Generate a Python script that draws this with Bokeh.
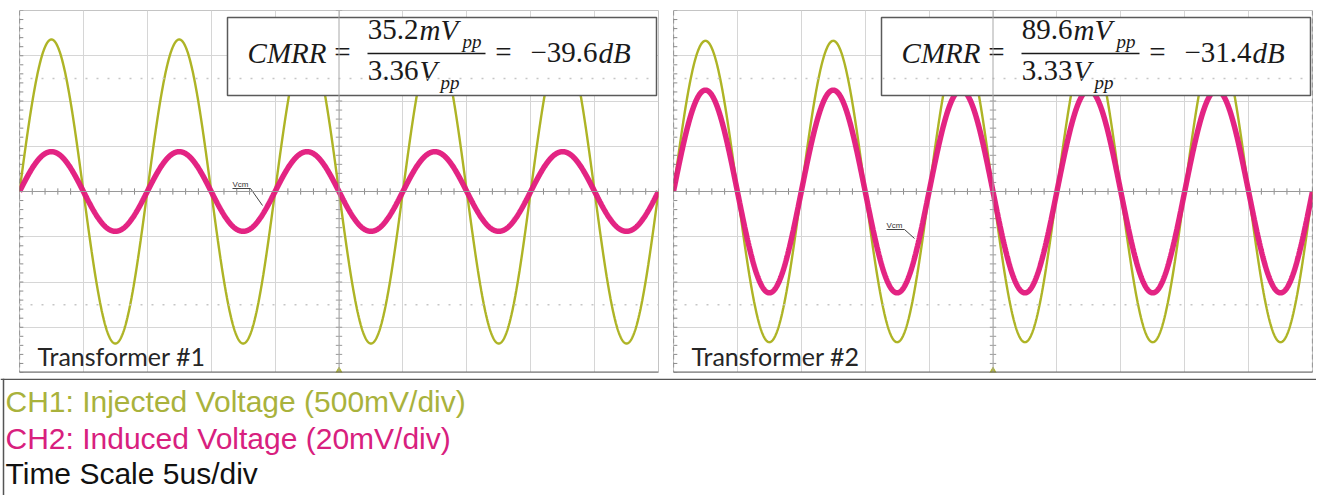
import numpy as np
from bokeh.plotting import figure
from bokeh.models import Range1d, Grid, FixedTicker, Span
from bokeh.layouts import column, row
from bokeh.embed import file_html
from bokeh.resources import INLINE
from bokeh.core.properties import value

# ---------------- data (read from the scope captures) ----------------
panel_names = ["Transformer #1", "Transformer #2"]
ch1_vpp = [3.36, 3.33]        # injected voltage, V peak-to-peak
ch2_mvpp = [35.2, 89.6]       # induced voltage, mV peak-to-peak
cmrr_db = [-39.6, -31.4]
ch1_v_per_div = 0.5           # 500 mV/div
ch2_mv_per_div = 20           # 20 mV/div
time_per_div_us = 5           # 5 us/div
n_div_x = 10
n_div_y = 8
signal_freq_mhz = 0.1         # 100 kHz test tone (10 us period)
legend_lines = ["CH1: Injected Voltage (500mV/div)",
                "CH2: Induced Voltage (20mV/div)",
                "Time Scale 5us/div"]

C1 = "#aeb426"
C2 = "#e2187c"
C1_TXT = "#a9b23c"
C2_TXT = "#d8207e"

t_end = n_div_x * time_per_div_us
t = np.linspace(0, t_end, 2001)
phase = np.sin(2 * np.pi * signal_freq_mhz * t)


# reference-pixel helpers for annotation placement (layout only)
def X(px):
    return (px - 19) / 12.78


def Y(py):
    return (191 - py) / 45.25


def make_panel(i, width, mbl, mbr):
    p = figure(width=width, height=378, x_range=Range1d(0, t_end),
               y_range=Range1d(-n_div_y / 2, n_div_y / 2),
               x_axis_type=None, y_axis_type=None, title=None,
               toolbar_location=None, output_backend="svg",
               min_border_left=mbl, min_border_right=mbr,
               min_border_top=10, min_border_bottom=6,
               outline_line_color="#c4c4c4", background_fill_color="white",
               border_fill_color="white")
    p.add_layout(Grid(dimension=0, ticker=FixedTicker(
        ticks=list(np.arange(0, t_end + 0.1, time_per_div_us))),
        grid_line_color="#d6d6d6"))
    p.add_layout(Grid(dimension=1, ticker=FixedTicker(
        ticks=list(np.arange(-n_div_y / 2, n_div_y / 2 + 0.1, 1))),
        grid_line_color="#d6d6d6"))
    # dotted reference lines
    for loc in (2.5, -2.5):
        p.add_layout(Span(location=loc, dimension="width", line_color="#c6c6c6",
                          line_dash="2 9", line_width=1.5))
    # centre cross
    p.add_layout(Span(location=0, dimension="width", line_color="#9a9a9a", line_width=1))
    p.add_layout(Span(location=t_end / 2, dimension="height", line_color="#a8a8a8", line_width=1))
    # borders
    p.add_layout(Span(location=0, dimension="height", line_color="#707070",
                      line_dash="5 3", line_width=1.2))
    p.add_layout(Span(location=-n_div_y / 2, dimension="width", line_color="#6a6a6a", line_width=2))
    if i == 1:
        p.add_layout(Span(location=t_end, dimension="height", line_color="#707070",
                          line_dash="5 3", line_width=1.2))
    # minor ticks on the centre cross and border
    tx = np.arange(0, t_end + 0.01, time_per_div_us / 5)
    p.segment(x0=tx, x1=tx, y0=-0.07, y1=0.07, line_color="#8c8c8c", line_width=1)
    ty = np.arange(-n_div_y / 2, n_div_y / 2 + 0.01, 0.2)
    p.segment(x0=t_end / 2 - 0.25, x1=t_end / 2 + 0.25, y0=ty, y1=ty,
              line_color="#9a9a9a", line_width=1)
    p.segment(x0=0, x1=0.3, y0=ty, y1=ty, line_color="#8c8c8c", line_width=1)

    # traces
    ch1 = (ch1_vpp[i] / 2) / ch1_v_per_div * phase
    ch2 = (ch2_mvpp[i] / 2) / ch2_mv_per_div * phase
    p.line(t, ch1, line_color=C1, line_width=2.4)
    p.line(t, ch2, line_color=C2, line_width=5.5, line_alpha=0.95)

    # trigger marker
    p.scatter(x=[t_end / 2], y=[-n_div_y / 2], marker="triangle", size=9,
              fill_color=C1, line_color=C1)

    # Vcm label
    if i == 0:
        tx0, ty0, ux1, dx1, dy1 = X(232), 187, X(250), X(262), Y(205)
    else:
        tx0, ty0, ux1, dx1, dy1 = X(232), 228, X(250), X(260), Y(238)
    p.text(x=[tx0], y=[Y(ty0 - 3)], text=["Vcm"], text_font=value("Liberation Sans"),
           text_font_size="8px", text_color="#333333", text_baseline="alphabetic")
    p.segment(x0=[tx0, ux1], x1=[ux1, dx1], y0=[Y(ty0 + 1), Y(ty0 + 1)],
              y1=[Y(ty0 + 1), dy1], line_color="#444444", line_width=1)

    # CMRR box
    p.quad(left=X(227), right=X(656), top=Y(17), bottom=Y(95),
           fill_color="white", line_color="#5a5a5a", line_width=1.5)
    serif = value("Liberation Serif")
    fs = "29px"
    sub = "19px"
    ink = "#1a1a1a"
    num = f"{ch2_mvpp[i]:.1f}"
    den = f"{ch1_vpp[i]:.2f}"
    res = "\u2212" + f"{abs(cmrr_db[i]):.1f}"

    def tx(x, base_py, s, size=fs, italic=False, align="left"):
        shift = 12 if size == fs else 8
        p.text(x=[x], y=[Y(base_py - shift)], text=[s], text_font=serif, text_font_size=size,
               text_font_style="italic" if italic else "normal",
               text_align=align, text_baseline="alphabetic", text_color=ink)

    tx(X(326), 64, "CMRR", italic=True, align="right")
    tx(X(342), 63, "=", align="center")
    # numerator
    tx(X(418), 41, num, align="right")
    tx(X(419), 41, "mV", italic=True)
    tx(X(462), 49, "pp", size=sub, italic=True)
    p.segment(x0=[X(367)], x1=[X(485)], y0=[Y(53)], y1=[Y(53)], line_color=ink,
              line_width=1.6)
    # denominator
    tx(X(418), 82, den, align="right")
    tx(X(419), 82, "V", italic=True)
    tx(X(440), 90, "pp", size=sub, italic=True)
    # result
    tx(X(503), 63, "=", align="center")
    tx(X(597), 64, res, align="right")
    tx(X(598), 64, "dB", italic=True)

    # panel name
    p.text(x=[X(37)], y=[Y(355)], text=[panel_names[i]], text_font=value("Lato"),
           text_font_size="25px", text_baseline="middle", text_color="#262626")
    return p


p1 = make_panel(0, 664, 19, 6)
p2 = make_panel(1, 652, 9, 4)

lg = figure(width=1316, height=117, x_range=Range1d(0, 1316), y_range=Range1d(117, 0),
            x_axis_type=None, y_axis_type=None, title=None, toolbar_location=None,
            output_backend="svg", min_border=0, outline_line_color=None)
lg.xgrid.visible = False
lg.ygrid.visible = False
lg.text(x=[5, 5, 5], y=[23, 60, 95], text=legend_lines,
        text_color=[C1_TXT, C2_TXT, "#111111"], text_font=value("Liberation Sans"),
        text_font_size="30px", text_baseline="middle")
lg.add_layout(Span(location=0.8, dimension="width", line_color="#555555", line_width=1.5))
lg.add_layout(Span(location=3, dimension="height", line_color="#555555", line_width=1.5))

layout = column(row(p1, p2, spacing=0), lg, spacing=0)
open("out.html", "w").write(file_html(layout, INLINE))
